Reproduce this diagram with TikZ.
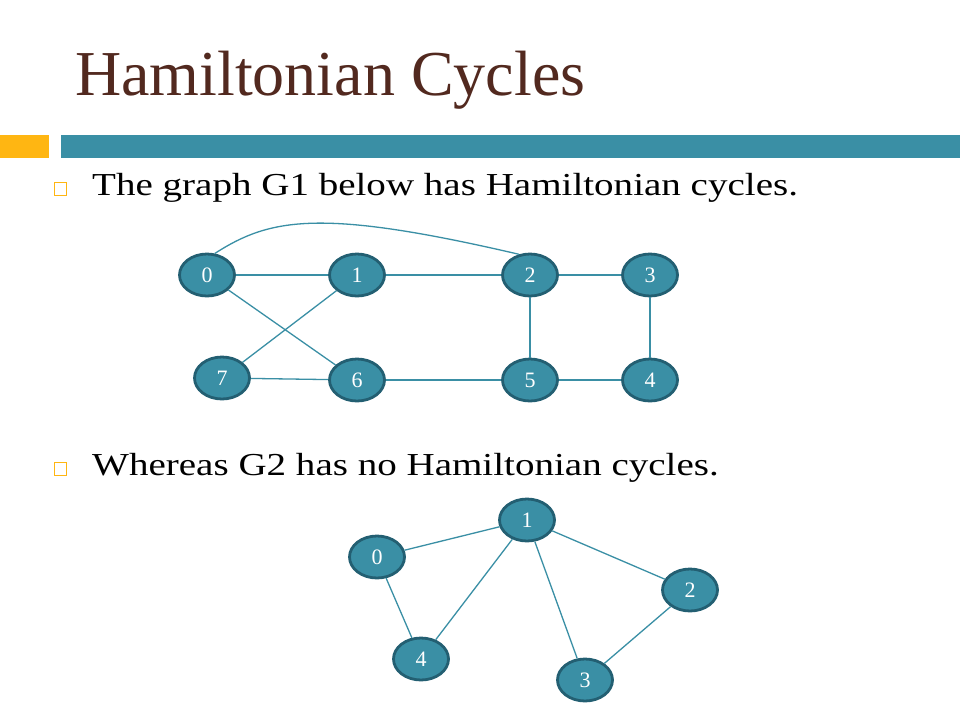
\documentclass[tikz,border=0pt]{standalone}
\usepackage{fontspec}
\setmainfont{Liberation Serif}
\usetikzlibrary{shapes.geometric}
\definecolor{teal1}{HTML}{3A8FA5}
\definecolor{tealdark}{HTML}{235F72}
\definecolor{brown1}{HTML}{52291F}
\definecolor{orange1}{HTML}{FFB612}
\tikzset{
  vtx/.style={ellipse, fill=teal1, draw=tealdark, line width=2.8pt, minimum width=55pt, minimum height=42pt, inner sep=0pt, text=white, font=\fontsize{22}{22}\selectfont},
  edge/.style={draw=teal1, line width=1.3pt},
  bul/.style={draw=orange1, line width=1.2pt},
  bodytext/.style={anchor=base west, inner sep=0pt, font=\fontsize{32}{32}\selectfont},
}
\newcommand{\wide}[1]{\scalebox{1.22}[1]{#1}}
\begin{document}
\begin{tikzpicture}[x=1pt,y=-1pt]
\useasboundingbox (0,0) rectangle (960,720);
\fill[white] (0,0) rectangle (960,720);
% title
\node[anchor=base west, inner sep=0pt, text=brown1, font=\fontsize{64}{64}\selectfont] (title) at (75,95) {Hamiltonian Cycles};
% bars
\fill[orange1] (0,135) rectangle (49,158);
\fill[teal1] (61,135) rectangle (960,158);
% bullets
\draw[bul] (54.5,182.5) rectangle (66.5,195.5);
\node[bodytext] (t1) at (92,195) {\wide{The graph G1 below has Hamiltonian cycles.}};
\draw[bul] (54.5,462.5) rectangle (66.5,475.5);
\node[bodytext] (t2) at (92,475) {\wide{Whereas G2 has no Hamiltonian cycles.}};
% G1
\node[vtx] (a0) at (207,275) {0};
\node[vtx] (a1) at (357,275) {1};
\node[vtx] (a2) at (530,275) {2};
\node[vtx] (a3) at (650,275) {3};
\node[vtx] (a7) at (222,378) {7};
\node[vtx] (a6) at (357,380) {6};
\node[vtx] (a5) at (530,380) {5};
\node[vtx] (a4) at (650,380) {4};
\draw[edge] (a0) -- (a1);
\draw[edge] (a1) -- (a2);
\draw[edge] (a2) -- (a3);
\draw[edge] (a0) -- (a6);
\draw[edge] (a1) -- (a7);
\draw[edge] (a7) -- (a6);
\draw[edge] (a6) -- (a5);
\draw[edge] (a5) -- (a4);
\draw[edge] (a2) -- (a5);
\draw[edge] (a3) -- (a4);
\draw[edge] (a0.70) .. controls (270,218) and (320,208) .. (a2.118);
% G2
\node[vtx] (b0) at (377,557) {0};
\node[vtx] (b1) at (527,520) {1};
\node[vtx] (b2) at (690,590) {2};
\node[vtx] (b4) at (421,659) {4};
\node[vtx] (b3) at (585,680) {3};
\draw[edge] (b0) -- (b1);
\draw[edge] (b1) -- (b4);
\draw[edge] (b1) -- (b3);
\draw[edge] (b1) -- (b2);
\draw[edge] (b0) -- (b4);
\draw[edge] (b2) -- (b3);
\end{tikzpicture}
\end{document}
